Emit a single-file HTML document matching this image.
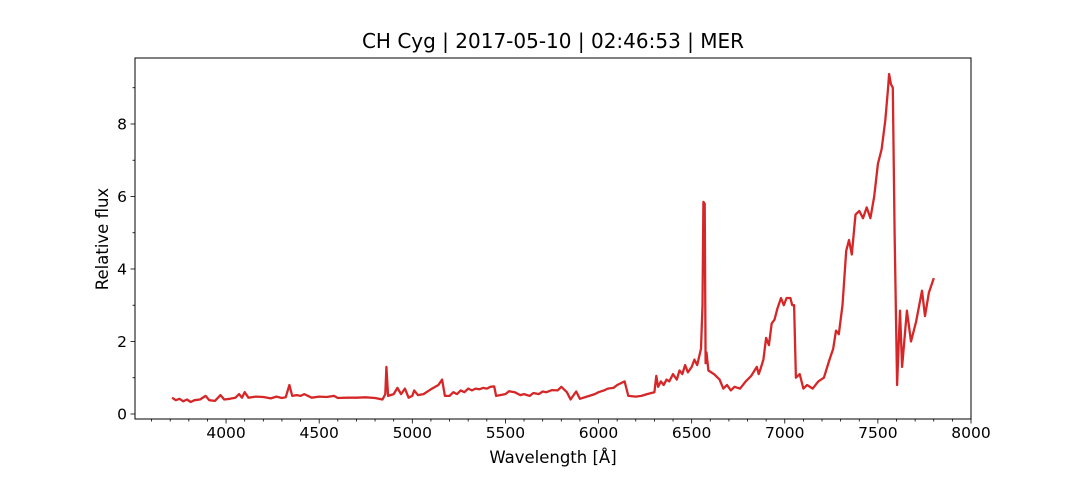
<!DOCTYPE html>
<html><head><meta charset="utf-8"><style>
body{margin:0;background:#fff}
svg text{font-family:"DejaVu Sans","Liberation Sans",sans-serif;fill:#000}
</style></head><body>
<svg id="chart" width="1080" height="480" xmlns="http://www.w3.org/2000/svg">
<text x="553" y="48" font-size="20" text-anchor="middle">CH Cyg | 2017-05-10 | 02:46:53 | MER</text>
<g id="axes"></g>
<text x="553" y="463" font-size="16.5" text-anchor="middle">Wavelength [Å]</text>
<text transform="translate(108,239) rotate(-90)" font-size="16.5" text-anchor="middle">Relative flux</text>
</svg>
<script>
const wavelengths=[3710,3730,3750,3770,3790,3810,3830,3860,3890,3910,3940,3970,3990,4020,4050,4070,4085,4100,4120,4160,4200,4240,4270,4300,4320,4340,4355,4380,4400,4420,4460,4500,4540,4580,4600,4650,4700,4750,4800,4840,4855,4861,4870,4900,4920,4940,4960,4980,5000,5010,5030,5060,5100,5140,5160,5175,5200,5220,5240,5260,5280,5300,5320,5340,5360,5380,5400,5420,5440,5450,5500,5520,5550,5580,5600,5630,5650,5680,5700,5720,5750,5780,5800,5830,5850,5870,5880,5900,5950,5980,6000,6030,6050,6080,6100,6140,6160,6200,6230,6260,6300,6310,6320,6335,6350,6365,6380,6400,6420,6435,6450,6465,6480,6500,6515,6530,6550,6558,6563,
6570,6575,6580,6590,6620,6650,6670,6690,6710,6730,6760,6790,6820,6850,6860,6870,6885,6900,6915,6930,6945,6960,6980,6995,7010,7030,7040,7050,7060,7080,7100,7120,7150,7180,7210,7240,7260,7275,7290,7310,7330,7345,7360,7380,7400,7420,7440,7460,7480,7500,7520,7540,7555,7560,7570,7580,7590,7603,7619,7630,7656,7678,7705,7737,7753,7774,7800];
const fluxes=[0.45,0.38,0.42,0.35,0.4,0.33,0.38,0.4,0.5,0.38,0.36,0.52,0.4,0.42,0.45,0.55,0.45,0.6,0.45,0.48,0.47,0.43,0.48,0.44,0.46,0.8,0.5,0.52,0.5,0.55,0.45,0.48,0.47,0.5,0.44,0.45,0.45,0.46,0.44,0.4,0.55,1.3,0.5,0.55,0.72,0.55,0.7,0.45,0.5,0.65,0.52,0.55,0.68,0.8,0.95,0.5,0.5,0.6,0.55,0.65,0.6,0.7,0.65,0.7,0.68,0.72,0.7,0.75,0.76,0.5,0.55,0.63,0.6,0.52,0.55,0.5,0.58,0.55,0.62,0.6,0.66,0.65,0.75,0.6,0.4,0.55,0.62,0.42,0.5,0.55,0.6,0.65,0.7,0.72,0.8,0.9,0.5,0.48,0.5,0.55,0.6,1.05,0.75,0.9,0.8,0.95,0.9,1.1,0.95,1.2,1.1,1.35,1.15,1.3,1.5,1.35,1.8,3,5.85,
5.8,1.4,1.7,1.2,1.1,0.95,0.7,0.8,0.65,0.75,0.7,0.9,1.05,1.3,1.1,1.25,1.5,2.1,1.9,2.5,2.6,2.9,3.2,3.0,3.2,3.2,3.0,3.0,1.0,1.1,0.7,0.8,0.7,0.9,1.0,1.5,1.8,2.3,2.2,3.0,4.5,4.8,4.4,5.5,5.6,5.4,5.7,5.4,6.0,6.9,7.3,8.1,9.0,9.38,9.1,9.0,5.0,0.8,2.85,1.3,2.85,2.0,2.55,3.4,2.7,3.35,3.75];
const xTicks=[4000,4500,5000,5500,6000,6500,7000,7500,8000];
const yTicks=[0,2,4,6,8];
const L=135,R=971,T=58,B=419,xmin=3511,xmax=8000,ymin=-0.138,ymax=9.82;
const X=v=>L+(v-xmin)/(xmax-xmin)*(R-L);
const Y=v=>B-(v-ymin)/(ymax-ymin)*(B-T);
const NS="http://www.w3.org/2000/svg";
const g=document.getElementById('axes');
function mk(t,a){const e=document.createElementNS(NS,t);for(const k in a)e.setAttribute(k,a[k]);g.appendChild(e);return e;}
let d=wavelengths.map((w,i)=>(i?'L':'M')+X(w).toFixed(1)+','+Y(fluxes[i]).toFixed(1)).join('');
const line=mk('path',{d:d,fill:'none',stroke:'#d62728','stroke-width':2.3,'stroke-linejoin':'round'});


for(let v=3600;v<=8000;v+=100){if(v%500===0)continue;mk('line',{x1:X(v),x2:X(v),y1:B,y2:B+2.5,stroke:'#000','stroke-width':0.8});}
for(let v=1;v<=9;v+=2){mk('line',{x1:L,x2:L-2.5,y1:Y(v),y2:Y(v),stroke:'#000','stroke-width':0.8});}
xTicks.forEach(v=>{mk('line',{x1:X(v),x2:X(v),y1:B,y2:B+4.5,stroke:'#000','stroke-width':0.8});
const t=mk('text',{x:X(v),y:B+19,'font-size':15.5,'text-anchor':'middle'});t.textContent=v;

});
yTicks.forEach(v=>{mk('line',{x1:L,x2:L-4.5,y1:Y(v),y2:Y(v),stroke:'#000','stroke-width':0.8});
const t=mk('text',{x:L-8,y:Y(v)+5.5,'font-size':15.5,'text-anchor':'end'});t.textContent=v;

});
const fr=mk('rect',{x:L,y:T,width:R-L,height:B-T,fill:'none',stroke:'#000','stroke-width':1});


</script>
</body></html>
